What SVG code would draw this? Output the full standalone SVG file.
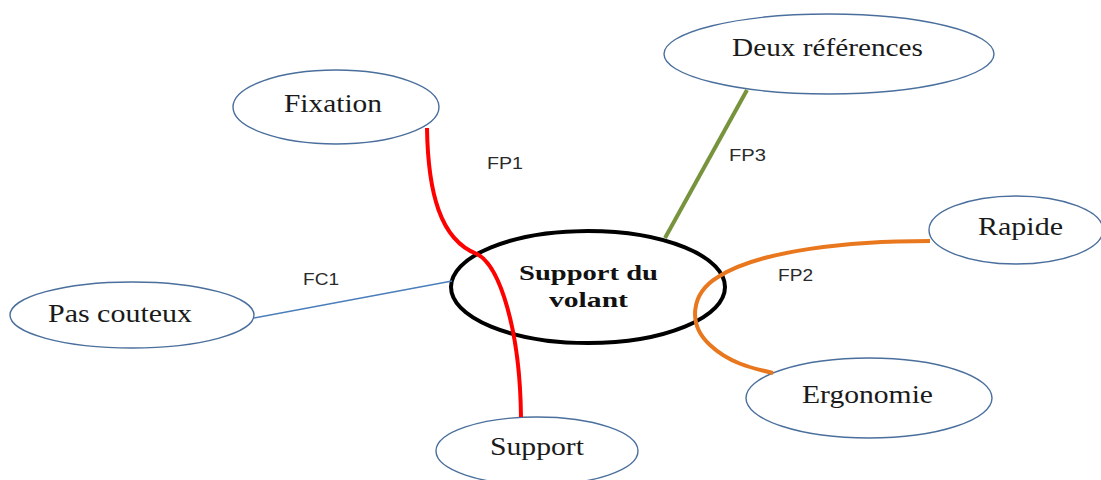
<svg xmlns="http://www.w3.org/2000/svg" width="1101" height="480" viewBox="0 0 1101 480">
  <style>
    .node { fill: #ffffff; stroke: #4a6f9c; stroke-width: 1.4; }
    .core { fill: #ffffff; stroke: #000000; stroke-width: 4; }
    .lbl { font-family: "Liberation Serif", "Times New Roman", serif; font-size: 25px; fill: #1a1a1a; }
    .corelbl { font-family: "Liberation Serif", "Times New Roman", serif; font-size: 22px; font-weight: bold; fill: #111111; }
    .fn { font-family: "Liberation Sans", Arial, sans-serif; font-size: 16px; fill: #2a2a2a; }
    .link { fill: none; stroke-width: 4; stroke-linecap: butt; }
  </style>
  <rect width="1101" height="480" fill="#ffffff"/>

  <!-- peripheral nodes -->
  <g id="node-fixation">
    <ellipse class="node" cx="336" cy="107" rx="103" ry="37"/>
    <text class="lbl" x="284" y="112" textLength="98" lengthAdjust="spacingAndGlyphs">Fixation</text>
  </g>
  <g id="node-pas-couteux">
    <ellipse class="node" cx="132" cy="315" rx="122" ry="33"/>
    <text class="lbl" x="48" y="322" textLength="144" lengthAdjust="spacingAndGlyphs">Pas couteux</text>
  </g>
  <g id="node-deux-references">
    <ellipse class="node" cx="829" cy="54" rx="165" ry="40"/>
    <text class="lbl" x="732" y="56" textLength="191" lengthAdjust="spacingAndGlyphs">Deux références</text>
  </g>
  <g id="node-rapide">
    <ellipse class="node" cx="1016" cy="230" rx="87" ry="34"/>
    <text class="lbl" x="978" y="235" textLength="85" lengthAdjust="spacingAndGlyphs">Rapide</text>
  </g>
  <g id="node-ergonomie">
    <ellipse class="node" cx="869" cy="398" rx="123" ry="40"/>
    <text class="lbl" x="802" y="403" textLength="131" lengthAdjust="spacingAndGlyphs">Ergonomie</text>
  </g>
  <g id="node-support">
    <ellipse class="node" cx="537" cy="451" rx="101" ry="34"/>
    <text class="lbl" x="490" y="455" textLength="94" lengthAdjust="spacingAndGlyphs">Support</text>
  </g>

  <!-- central element -->
  <g id="node-support-du-volant">
    <ellipse class="core" cx="588" cy="287" rx="137" ry="56"/>
    <text class="corelbl" x="519" y="280" textLength="139" lengthAdjust="spacingAndGlyphs">Support du</text>
    <text class="corelbl" x="549" y="307" textLength="79" lengthAdjust="spacingAndGlyphs">volant</text>
  </g>

  <!-- function connectors -->
  <g id="connectors">
    <path class="link" stroke="#ff0000" d="M427 128 C428 192 440 240 477 254 C500 266 520 330 521 417"/>
    <line stroke="#4a7ebb" stroke-width="1.3" x1="254" y1="318" x2="452" y2="281"/>
    <line class="link" stroke="#77933c" x1="747" y1="90" x2="665" y2="238"/>
    <path class="link" stroke="#e8771e" d="M930 241 C850 241 760 250 718 277 C690 294 688 325 710 345 C728 362 750 368 773 373"/>
  </g>

  <!-- function labels -->
  <g id="function-labels">
    <text class="fn" x="487" y="169" textLength="36" lengthAdjust="spacingAndGlyphs">FP1</text>
    <text class="fn" x="303" y="285" textLength="36" lengthAdjust="spacingAndGlyphs">FC1</text>
    <text class="fn" x="729" y="161" textLength="37" lengthAdjust="spacingAndGlyphs">FP3</text>
    <text class="fn" x="778" y="281" textLength="35" lengthAdjust="spacingAndGlyphs">FP2</text>
  </g>
</svg>
